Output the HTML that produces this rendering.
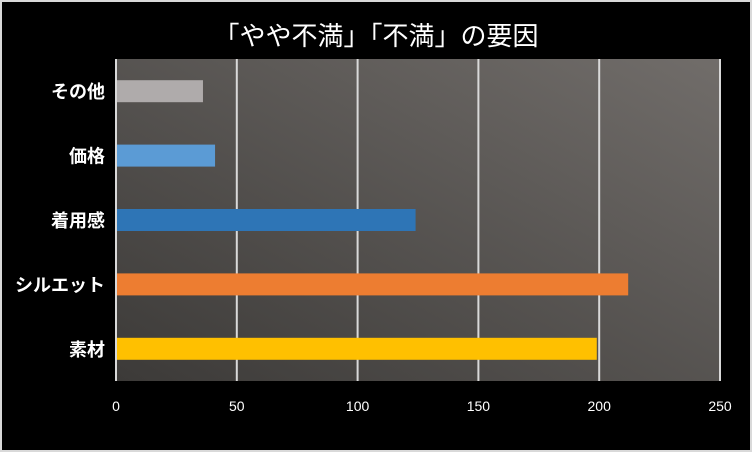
<!DOCTYPE html>
<html><head><meta charset="utf-8"><style>
html,body{margin:0;padding:0;background:#d9d9d9}
#c{position:absolute;left:0;top:0;width:752px;height:452px}
text{font-family:"Liberation Sans","Noto Sans CJK JP",sans-serif;fill:#fff}
</style></head><body>
<svg id="c" width="752" height="452">
<defs><linearGradient id="g" x1="0" y1="1" x2="1" y2="0">
<stop offset="0" stop-color="#3c3a38"/><stop offset="1" stop-color="#716d6a"/></linearGradient></defs>
<rect x="2" y="2" width="748" height="448" fill="#000"/>
<text x="376" y="45" text-anchor="middle" font-size="26">「やや不満」「不満」の要因</text>
<rect x="116" y="59" width="605" height="322" fill="url(#g)"/>
<g id="grid"></g><g id="bars"></g><g id="xl"></g><g id="yl"></g>
</svg>
<script>
const categories=["その他","価格","着用感","シルエット","素材"];
const values=[36,41,124,212,199];
const colors=["#afabab","#5b9bd5","#2e75b6","#ed7d31","#ffc000"];
const ticks=[0,50,100,150,200,250];
const ns="http://www.w3.org/2000/svg";
const x0=116,x1=720,maxV=250,pTop=59,pBottom=381;
const xs=v=>x0+(x1-x0)*v/maxV;
const band=(pBottom-pTop)/categories.length;
const ys=i=>pTop+band*i+band/2;
function mk(t,a,p){const e=document.createElementNS(ns,t);for(const k in a)e.setAttribute(k,a[k]);document.getElementById(p).appendChild(e);return e;}
ticks.forEach(t=>{
 const l=mk("line",{x1:xs(t),x2:xs(t),y1:pTop,y2:pBottom,stroke:"#d9d9d9","stroke-width":2},"grid");
 
 
 const tx=mk("text",{x:xs(t),y:411,"text-anchor":"middle","font-size":14},"xl");
 tx.textContent=t;
 
 
});
categories.forEach((c,i)=>{
 const r=mk("rect",{x:x0+1,y:ys(i)-11,width:xs(values[i])-x0-1,height:22,fill:colors[i]},"bars");
 
 
 const tx=mk("text",{x:105,y:ys(i)+7,"text-anchor":"end","font-size":18,"font-weight":"bold"},"yl");
 tx.textContent=c;
 
 
});
</script>
</body></html>
